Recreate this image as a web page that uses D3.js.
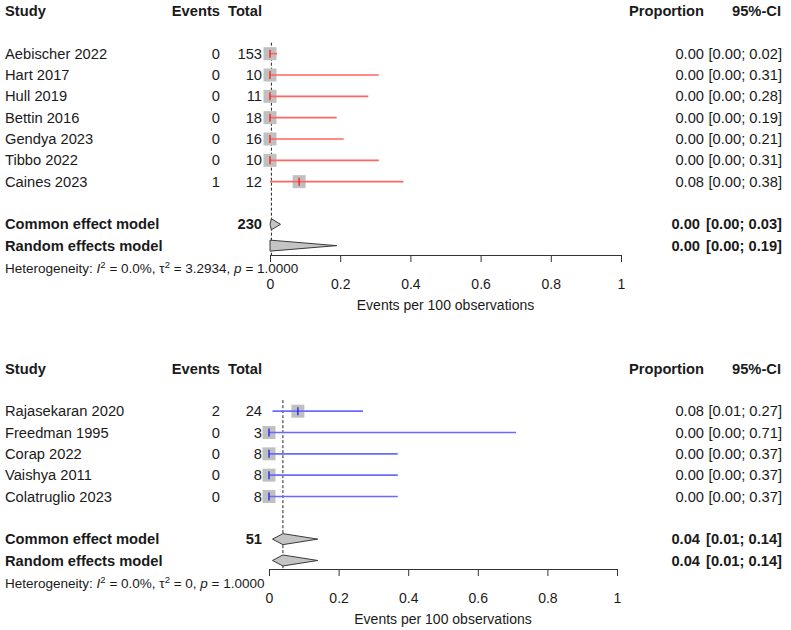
<!DOCTYPE html>
<html><head><meta charset="utf-8">
<script src="https://cdn.jsdelivr.net/npm/d3@7"></script>
<style>body{margin:0;background:#fff}svg{display:block}text{font-family:"Liberation Sans",Arial,sans-serif;fill:#1a1a1a}</style>
</head><body><svg id="c" width="791" height="630"></svg>
<script>
// ---------- data: panel 1 (red) ----------
const studies1 = ["Aebischer 2022","Hart 2017","Hull 2019","Bettin 2016","Gendya 2023","Tibbo 2022","Caines 2023"];
const events1  = [0,0,0,0,0,0,1];
const totals1  = [153,10,11,18,16,10,12];
const prop1    = [0.00,0.00,0.00,0.00,0.00,0.00,0.083];
const lower1   = [0.00,0.00,0.00,0.00,0.00,0.00,0.00];
const upper1   = [0.02,0.31,0.28,0.19,0.21,0.31,0.38];
const propLbl1 = ["0.00","0.00","0.00","0.00","0.00","0.00","0.08"];
const ciLbl1   = ["[0.00; 0.02]","[0.00; 0.31]","[0.00; 0.28]","[0.00; 0.19]","[0.00; 0.21]","[0.00; 0.31]","[0.00; 0.38]"];
const models1  = ["Common effect model","Random effects model"];
const modelEst1 = [0.004,0.00];
const modelLo1  = [0.00,0.00];
const modelHi1  = [0.03,0.19];
const modelTotal1 = ["230",""];
const modelPropLbl1 = ["0.00","0.00"];
const modelCiLbl1 = ["[0.00; 0.03]","[0.00; 0.19]"];
const tau1 = "3.2934";
const refLine1 = 0.004;

// ---------- data: panel 2 (blue) ----------
const studies2 = ["Rajasekaran 2020","Freedman 1995","Corap 2022","Vaishya 2011","Colatruglio 2023"];
const events2  = [2,0,0,0,0];
const totals2  = [24,3,8,8,8];
const prop2    = [0.083,0.00,0.00,0.00,0.00];
const lower2   = [0.01,0.00,0.00,0.00,0.00];
const upper2   = [0.27,0.71,0.37,0.37,0.37];
const propLbl2 = ["0.08","0.00","0.00","0.00","0.00"];
const ciLbl2   = ["[0.01; 0.27]","[0.00; 0.71]","[0.00; 0.37]","[0.00; 0.37]","[0.00; 0.37]"];
const models2  = ["Common effect model","Random effects model"];
const modelEst2 = [0.04,0.04];
const modelLo2  = [0.01,0.01];
const modelHi2  = [0.14,0.14];
const modelTotal2 = ["51",""];
const modelPropLbl2 = ["0.04","0.04"];
const modelCiLbl2 = ["[0.01; 0.14]","[0.01; 0.14]"];
const tau2 = "0";
const refLine2 = 0.04;

const tickVals = [0,0.2,0.4,0.6,0.8,1];
const tickLbls = ["0","0.2","0.4","0.6","0.8","1"];
const axisTitle = "Events per 100 observations";

const svg = d3.select("#c");
const FS = 14.7;

function panel(cfg){
  const g = svg.append("g");
  const x = d3.scaleLinear().domain([0,1]).range(cfg.xr);
  const y = d3.scaleLinear().domain([0,1]).range([cfg.y0, cfg.y0+21.33]);
  const n = cfg.studies.length;
  const txt = (xx, yy, s, anchor, bold) => g.append("text").attr("x",xx).attr("y",yy).attr("dy","0.35em")
      .attr("text-anchor",anchor).attr("font-size",FS).attr("font-weight",bold?"bold":null).text(s);
  // headers
  txt(5, y(0), "Study", "start", true);
  txt(220, y(0), "Events", "end", true);
  txt(262, y(0), "Total", "end", true);
  txt(704, y(0), "Proportion", "end", true);
  txt(781, y(0), "95%-CI", "end", true);
  // reference dashed line
  const yTop = y(2) - 11, yAx = cfg.axisY;
  g.append("line").attr("x1",x(cfg.ref)).attr("x2",x(cfg.ref)).attr("y1",yTop).attr("y2",yAx)
    .attr("stroke","#222").attr("stroke-width",1).attr("stroke-dasharray","3,2");
  // studies
  cfg.studies.forEach((s,i)=>{
    const yy = y(i+2);
    txt(5, yy, s, "start", false);
    txt(220, yy, String(cfg.events[i]), "end", false);
    txt(262, yy, String(cfg.totals[i]), "end", false);
    txt(704, yy, cfg.propLbl[i], "end", false);
    txt(782, yy, cfg.ciLbl[i], "end", false);
    const sz = 13;
    g.append("rect").attr("x",x(cfg.prop[i])-sz/2).attr("y",yy-sz/2).attr("width",sz).attr("height",sz)
      .attr("fill","#c0c0c0");
    g.append("line").attr("x1",x(cfg.lower[i])).attr("x2",x(cfg.upper[i])).attr("y1",yy).attr("y2",yy)
      .attr("stroke",cfg.col).attr("stroke-width",1.7);
    g.append("line").attr("x1",x(cfg.prop[i])).attr("x2",x(cfg.prop[i])).attr("y1",yy-4).attr("y2",yy+4)
      .attr("stroke",cfg.colDark).attr("stroke-width",1.3);
  });
  // models
  cfg.models.forEach((m,j)=>{
    const yy = y(n+3+j);
    txt(5, yy, m, "start", true);
    if (cfg.modelTotal[j]) txt(262, yy, cfg.modelTotal[j], "end", true);
    txt(700, yy, cfg.modelPropLbl[j], "end", true);
    txt(782, yy, cfg.modelCiLbl[j], "end", true);
    const h = 5.5;
    const pts = [[x(cfg.modelLo[j]),yy],[x(cfg.modelEst[j]),yy-h],[x(cfg.modelHi[j]),yy],[x(cfg.modelEst[j]),yy+h]];
    g.append("polygon").attr("points",pts.map(p=>p.join(",")).join(" "))
      .attr("fill","#c4c4c4").attr("stroke","#3a3a3a").attr("stroke-width",1);
  });
  // axis
  const ax = d3.axisBottom(x).tickValues(tickVals).tickFormat((d,i)=>tickLbls[i]).tickSize(7).tickSizeOuter(0).tickPadding(17);
  const ag = g.append("g").attr("transform",`translate(0,${yAx})`).call(ax);
  ag.select(".domain").attr("stroke","#333");
  ag.selectAll(".tick line").attr("stroke","#333");
  ag.selectAll(".tick text").attr("font-size",14).attr("font-family","Liberation Sans, Arial, sans-serif").attr("fill","#1a1a1a");
  g.append("text").attr("x",(x(0)+x(1))/2).attr("y",yAx+50).attr("dy","0.35em").attr("text-anchor","middle")
    .attr("font-size",14).text(axisTitle);
  // heterogeneity
  const ht = g.append("text").attr("x",5).attr("y",y(n+5)+1).attr("dy","0.35em").attr("font-size",13.5);
  ht.append("tspan").text("Heterogeneity: ");
  ht.append("tspan").attr("font-style","italic").text("I");
  ht.append("tspan").attr("font-size",9.5).attr("dy","-5").text("2");
  ht.append("tspan").attr("dy","5").text(" = 0.0%, \u03c4");
  ht.append("tspan").attr("font-size",9.5).attr("dy","-5").text("2");
  ht.append("tspan").attr("dy","5").text(` = ${cfg.tau}, `);
  ht.append("tspan").attr("font-style","italic").text("p");
  ht.append("tspan").text(" = 1.0000");
}

panel({studies:studies1, events:events1, totals:totals1, prop:prop1, lower:lower1, upper:upper1,
  propLbl:propLbl1, ciLbl:ciLbl1, models:models1, modelEst:modelEst1, modelLo:modelLo1, modelHi:modelHi1,
  modelTotal:modelTotal1, modelPropLbl:modelPropLbl1, modelCiLbl:modelCiLbl1, tau:tau1, ref:refLine1,
  xr:[270,621], y0:11, axisY:255, col:"#ff6464", colDark:"#e82020"});
panel({studies:studies2, events:events2, totals:totals2, prop:prop2, lower:lower2, upper:upper2,
  propLbl:propLbl2, ciLbl:ciLbl2, models:models2, modelEst:modelEst2, modelLo:modelLo2, modelHi:modelHi2,
  modelTotal:modelTotal2, modelPropLbl:modelPropLbl2, modelCiLbl:modelCiLbl2, tau:tau2, ref:refLine2,
  xr:[269,617], y0:368.5, axisY:569, col:"#6a6aff", colDark:"#2020e0"});
</script></body></html>
